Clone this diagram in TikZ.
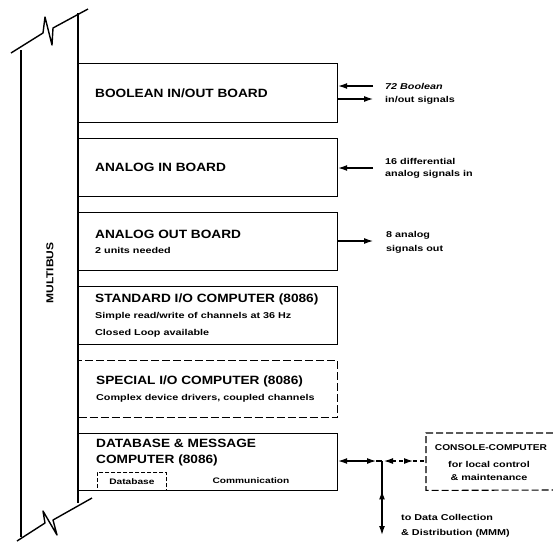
\documentclass[tikz,border=0pt]{standalone}
\usepackage{fontspec}
\setmainfont{Liberation Sans}
\newfontfamily\ttlfont[FakeStretch=1.14]{Liberation Sans}
\newfontfamily\smfont[FakeStretch=1.27]{Liberation Sans}
\newfontfamily\midfont[FakeStretch=1.2]{Liberation Sans}
\usetikzlibrary{arrows.meta,decorations.markings}
\tikzset{
  board/.style={draw, line width=1.2pt, minimum width=259pt, anchor=north west, inner sep=0pt},
  ttl/.style={font=\ttlfont\bfseries\fontsize{12}{14}\selectfont, anchor=west, inner sep=0pt},
  sub/.style={font=\smfont\bfseries\fontsize{8.5}{10}\selectfont, anchor=west, inner sep=0pt},
  lbl/.style={font=\smfont\bfseries\fontsize{8.5}{10}\selectfont, anchor=west, inner sep=0pt},
  tip/.style={Latex[length=9pt,width=6pt]},
  arr/.style={line width=1.1pt, -{Latex[length=9pt,width=6pt]}},
  line/.style={line width=1.4pt},
}
\begin{document}
\begin{tikzpicture}[x=1pt,y=-1pt]
\useasboundingbox (0,0) rectangle (553,542);
% bus
\draw[line, line join=round] (21,537) -- (21,50);
\draw[line] (78,503) -- (78,13);
\draw[line, line join=round] (11,53) -- (43,33) -- (45,17) -- (52,45) -- (53,28) -- (88,9);
\draw[line, line join=round] (17,541) -- (45,523) -- (43,511) -- (57,535) -- (53,520) -- (92,498);
\node[font=\midfont\bfseries\fontsize{10}{12}\selectfont, rotate=90, inner sep=0pt] (bus) at (50,273) {MULTIBUS};
% boards
\node[board, minimum height=59pt] (bool) at (78,63) {};
\node[board, minimum height=58pt] (ain) at (78,138) {};
\node[board, minimum height=58pt] (aout) at (78,212) {};
\node[board, minimum height=58pt] (std) at (78,286) {};
\node[board, minimum height=57pt, dashed, dash pattern=on 8pt off 3pt] (spc) at (78,360) {};
\node[board, minimum height=57pt] (db) at (78,433) {};
\node[draw, dashed, line width=0.9pt, dash pattern=on 4pt off 2pt, minimum width=69pt, minimum height=18pt, anchor=north west, inner sep=0pt,
      font=\smfont\bfseries\fontsize{8}{9}\selectfont] (dbin) at (97,472) {Database};
\node[font=\smfont\bfseries\fontsize{8}{9}\selectfont, inner sep=0pt] (comm) at (251,481) {Communication};
% titles
\node[ttl] (t1) at (95,93) {BOOLEAN IN/OUT BOARD};
\node[ttl] (t2) at (95,167) {ANALOG IN BOARD};
\node[ttl] (t3) at (95,234) {ANALOG OUT BOARD};
\node[sub] (s3) at (95,250) {2 units needed};
\node[ttl] (t4) at (95,299) {STANDARD I/O COMPUTER (8086)};
\node[sub] (s4a) at (95,316) {Simple read/write of channels at 36 Hz};
\node[sub] (s4b) at (95,333) {Closed Loop available};
\node[ttl] (t5) at (96,381) {SPECIAL I/O COMPUTER (8086)};
\node[sub] (s5) at (96,398) {Complex device drivers, coupled channels};
\node[ttl] (t6) at (96,443) {DATABASE \& MESSAGE};
\node[ttl] (t6b) at (96,460) {COMPUTER (8086)};
% right labels
\node[lbl] (l1a) at (385,86) {\itshape 72 Boolean};
\node[lbl] (l1b) at (385,100) {in/out signals};
\node[lbl] (l2a) at (385,161) {16 differential};
\node[lbl] (l2b) at (385,174) {analog signals in};
\node[lbl] (l3a) at (386,235) {8 analog};
\node[lbl] (l3b) at (386,249) {signals out};
% arrows
\coordinate (b1) at (373,86);
\coordinate (b2) at (373,99);
\coordinate (a1) at (373,168);
\coordinate (a2) at (373,241);
\draw[arr] (b1) -- (bool.east |- b1);
\draw[arr] (bool.east |- b2) -- (b2);
\draw[arr] (a1) -- (ain.east |- a1);
\draw[arr] (aout.east |- a2) -- (a2);
% console
\coordinate (J) at (382,461);
\coordinate (ctl) at (553,433);
\coordinate (cbl) at (553,490);
\node[minimum width=127pt, minimum height=57pt, anchor=north west, inner sep=0pt] (con) at (426,433) {};
\draw[line width=1.1pt, dashed, dash pattern=on 7pt off 3pt] (ctl) -- (con.north west) -- (con.south west) -- (cbl);
\node[font=\midfont\bfseries\fontsize{8.5}{10}\selectfont, inner sep=0pt] (c1) at (491,448) {CONSOLE-COMPUTER};
\node[font=\smfont\bfseries\fontsize{8.5}{10}\selectfont, inner sep=0pt] (c2) at (489,464) {for local control};
\node[font=\smfont\bfseries\fontsize{8.5}{10}\selectfont, inner sep=0pt] (c3) at (489,477) {\& maintenance};
\coordinate (Jr) at (384,461);
\coordinate (Jl) at (376,461);
\coordinate (ct) at (413,461);
\draw[line width=1.1pt, {Latex[length=9pt,width=6pt]}-{Latex[length=9pt,width=6pt]}] (db.east |- J) -- (Jl);
\draw[line width=1.1pt] (Jl) -- (J);
\draw[line width=1.1pt, dashed, dash pattern=on 4pt off 3pt, {Latex[length=9pt,width=6pt]}-{Latex[length=9pt,width=6pt]}] (Jr) -- (ct);
\draw[line width=1.1pt, dashed, dash pattern=on 4pt off 3pt] (ct) -- (con.west |- J);
\coordinate (dc) at (382,535);
\draw[line width=1.4pt, -{Latex[length=9pt,width=6pt]},
  postaction={decorate},
  decoration={markings, mark=at position 0.52 with {\arrow{Latex[length=9pt,width=6pt,reversed]}}}] (J) -- (dc);
\node[lbl] (d1) at (401,517) {to Data Collection};
\node[lbl] (d2) at (401,533) {\& Distribution (MMM)};
\end{tikzpicture}
\end{document}
